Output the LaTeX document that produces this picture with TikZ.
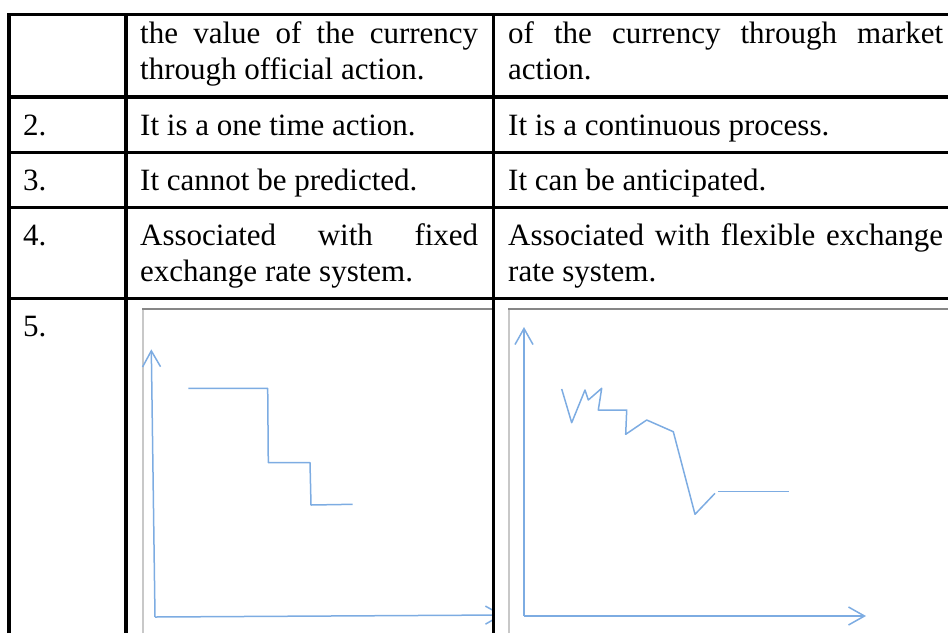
\documentclass[tikz,border=0pt]{standalone}
\usepackage{fontspec}
\setmainfont{Liberation Serif}
\usetikzlibrary{arrows.meta}
\definecolor{penblue}{RGB}{125,172,226}
\definecolor{framegray}{RGB}{135,135,135}
\definecolor{framelight}{RGB}{200,200,200}
\begin{document}
\begin{tikzpicture}[x=1pt,y=-1pt,
    cell/.style={anchor=base west,inner sep=0pt,font=\fontsize{31}{35.5}\selectfont},
    rule/.style={line width=3.5pt},
    axis/.style={penblue,line width=1.5pt,-{Straight Barb[length=16pt,width=18pt]}},
    curve/.style={penblue,line width=1.5pt,line join=round}]
    \useasboundingbox (0,0) rectangle (948,633);
    % left graph: official steps
    \begin{scope}
        \clip (130,300) rectangle (493,633);
        \draw[framelight,line width=2pt] (143,633) -- (143,308.5);
        \draw[framegray,line width=2pt] (142,308.5) -- (493,308.5);
        \draw[axis] (155,617) -- (151.3,349.3);
        \draw[axis] (155,617) -- (503,615);
        \draw[curve] (188.3,388.3) -- (267.7,388.3) -- (268.3,462.7) -- (310,462.7)
            -- (311,505) -- (352.7,504.3);
    \end{scope}
    % right graph: market path
    \draw[framelight,line width=2pt] (509,633) -- (509,308.5);
    \draw[framegray,line width=2pt] (508,308.5) -- (948,308.5);
    \draw[axis] (524,616) -- (524,327);
    \draw[axis] (524,616) -- (866,616);
    \draw[curve] (561.7,389) -- (571.7,422.7) -- (585,390) -- (588.3,400) -- (601.7,388.3)
        -- (598.3,410) -- (626.7,410) -- (625.7,434.3) -- (646.7,420) -- (673.3,431.7)
        -- (695,514.3) -- (715,493.3);
    \draw[curve] (718.3,491.7) -- (789.3,491.7);
    % table rules
    \draw[rule,line join=miter] (9,633) -- (9,14.7) -- (948,14.7);
    \draw[rule] (126,13) -- (126,633);
    \draw[rule] (493.5,13) -- (493.5,633);
    \draw[rule] (7.3,97) -- (948,97);
    \draw[rule] (7.3,152.7) -- (948,152.7);
    \draw[rule] (7.3,207.3) -- (948,207.3);
    \draw[rule] (7.3,298.5) -- (948,298.5);
    % row texts
    \node[cell,text width=338pt,align=justify] (devalue) at (140,43.5)
        {the value of the currency\linebreak through official action.};
    \node[cell,text width=435pt,align=justify] (deprec) at (508,43.5)
        {of the currency through market\linebreak action.};
    \node[cell] (num2) at (23,135) {2.};
    \node[cell] (once) at (140,135) {It is a one time action.};
    \node[cell] (cont) at (508,135) {It is a continuous process.};
    \node[cell] (num3) at (23,190) {3.};
    \node[cell] (nopred) at (140,190) {It cannot be predicted.};
    \node[cell] (antic) at (508,190) {It can be anticipated.};
    \node[cell] (num4) at (23,245.5) {4.};
    \node[cell,text width=338pt,align=justify] (fixed) at (140,245.5)
        {Associated with fixed\linebreak exchange rate system.};
    \node[cell,text width=435pt,align=justify] (flex) at (508,245.5)
        {Associated with flexible exchange\linebreak rate system.};
    \node[cell] (num5) at (23,336.5) {5.};
\end{tikzpicture}
\end{document}
